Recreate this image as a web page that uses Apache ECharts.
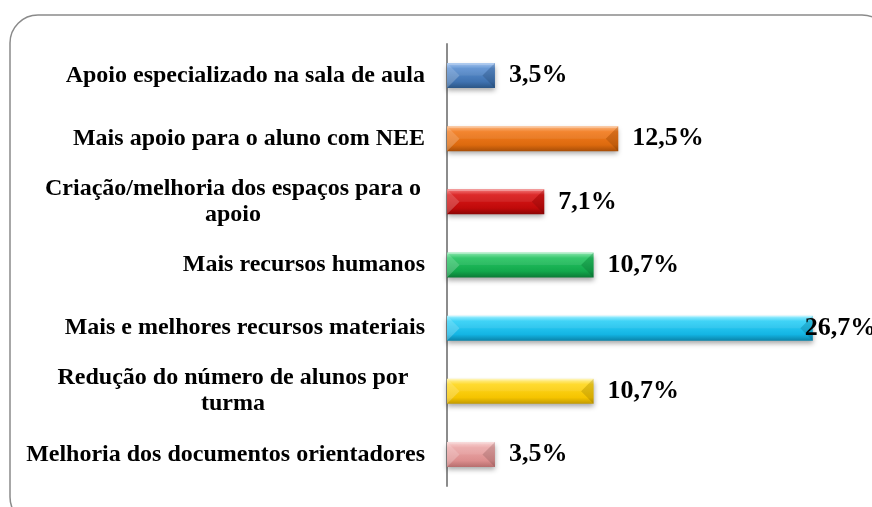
<!DOCTYPE html>
<html>
<head>
<meta charset="utf-8">
<script src="https://cdn.jsdelivr.net/npm/echarts@6/dist/echarts.min.js"></script>
<style>html,body{margin:0;padding:0;background:#fff}#c{width:872px;height:507px}</style>
</head>
<body>
<div id="c"></div>
<script>
const categories = [
  'Apoio especializado na sala de aula',
  'Mais apoio para o aluno com NEE',
  'Criação/melhoria dos espaços para o\napoio',
  'Mais recursos humanos',
  'Mais e melhores recursos materiais',
  'Redução do número de alunos por\nturma',
  'Melhoria dos documentos orientadores'
];
const values = [3.5, 12.5, 7.1, 10.7, 26.7, 10.7, 3.5];
const barColors = [
  ['#9CC0EE', '#5B8FD0', '#3F72B0', '#2B5585'],
  ['#FBB27A', '#F27B1E', '#DD6A0E', '#A84E08'],
  ['#F27070', '#DA1818', '#C00A0A', '#8A0505'],
  ['#86E6AB', '#26C462', '#12A84C', '#0B7A36'],
  ['#9AEEFF', '#30D0F6', '#14B5E4', '#0A84AA'],
  ['#FFF19A', '#FFD81F', '#F5C400', '#C29A00'],
  ['#F8D2D2', '#EBA9A9', '#DC8E8E', '#B76E6E']
];

const BAR_H = 25;
const fmt = v => v.toFixed(1).replace('.', ',') + '%';

const data = values.map((v, i) => {
  const c = barColors[i];
  const item = {
    value: v,
    itemStyle: {
      color: {
        type: 'linear', x: 0, y: 0, x2: 0, y2: 1,
        colorStops: [
          {offset: 0, color: c[0]},
          {offset: 0.22, color: c[1]},
          {offset: 0.75, color: c[2]},
          {offset: 1, color: c[3]}
        ]
      },
      shadowColor: 'rgba(0,0,0,0.35)',
      shadowBlur: 5,
      shadowOffsetY: 3
    }
  };
  if (v > 25) item.label = {offset: [-22, 0]};
  return item;
});

function bevel(params, api) {
  const v = api.value(0), idx = api.value(1);
  const p0 = api.coord([0, idx]);
  const p1 = api.coord([v, idx]);
  const x0 = p0[0], x1 = p1[0], yc = p0[1];
  const y0 = yc - BAR_H / 2, y1 = yc + BAR_H / 2;
  const b = Math.min(BAR_H / 2, (x1 - x0) / 2);
  return {
    type: 'group',
    silent: true,
    children: [
      {type: 'polygon', shape: {points: [[x0, y0], [x0 + b, yc], [x0, y1]]},
       style: {fill: 'rgba(255,255,255,0.22)'}},
      {type: 'polygon', shape: {points: [[x1, y0], [x1, y1], [x1 - b, yc]]},
       style: {fill: 'rgba(0,0,0,0.12)'}},
      {type: 'polygon', shape: {points: [[x0, y0], [x1, y0], [x1 - b, yc], [x0 + b, yc]]},
       style: {fill: 'rgba(255,255,255,0.08)'}},
      {type: 'line', shape: {x1: x0 + 1, y1: y0 + 1, x2: x1 - 1, y2: y0 + 1},
       style: {stroke: 'rgba(255,255,255,0.35)', lineWidth: 1}}
    ]
  };
}

const chart = echarts.init(document.getElementById('c'), null, {renderer: 'canvas'});
chart.setOption({
  animation: false,
  backgroundColor: '#fff',
  graphic: [{
    type: 'rect',
    shape: {x: 10, y: 15, width: 880, height: 510, r: 28},
    style: {fill: 'none', stroke: '#8a8a8a', lineWidth: 1.5},
    silent: true,
    z: -1
  }],
  grid: {left: 447, top: 44, width: 411, height: 442, containLabel: false},
  xAxis: {
    type: 'value', min: 0, max: 30,
    show: false
  },
  yAxis: {
    type: 'category',
    data: categories,
    inverse: true,
    axisLine: {show: true, lineStyle: {color: '#8c8c8c', width: 2}},
    axisTick: {show: false},
    splitLine: {show: false},
    axisLabel: {
      margin: 22,
      color: '#000',
      fontFamily: '"Liberation Serif", "Times New Roman", serif',
      fontWeight: 'bold',
      fontSize: 24,
      lineHeight: 27,
      formatter: function (v) {
        if (v.indexOf('\n') >= 0) {
          return v.split('\n').map(s => '{c|' + s + '}').join('\n');
        }
        return v;
      },
      rich: {
        c: {
          width: 384, align: 'center',
          fontFamily: '"Liberation Serif", "Times New Roman", serif',
          fontWeight: 'bold', fontSize: 24, lineHeight: 26, color: '#000'
        }
      }
    }
  },
  series: [{
    type: 'bar',
    data: data,
    barWidth: BAR_H,
    z: 2,
    label: {
      show: true,
      position: 'right',
      distance: 14,
      color: '#000',
      fontFamily: '"Liberation Serif", "Times New Roman", serif',
      fontWeight: 'bold',
      fontSize: 26,
      formatter: p => fmt(p.value)
    }
  }, {
    type: 'custom',
    z: 3,
    renderItem: bevel,
    encode: {x: 0, y: 1},
    data: values.map((v, i) => [v, i]),
    tooltip: {show: false}
  }]
});
</script>
</body>
</html>
